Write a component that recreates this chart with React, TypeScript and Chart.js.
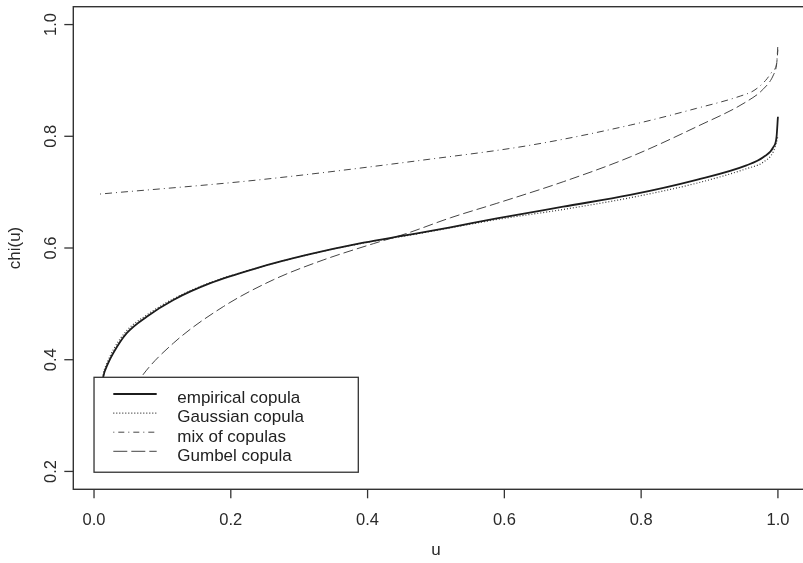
import React, { useEffect, useRef } from "react";
import { Chart, registerables } from "chart.js";

Chart.register(...registerables);

// ---- data ----
const uEmpirical = [0.010, 0.0136, 0.020, 0.0282, 0.0478, 0.077, 0.116, 0.170, 0.238, 0.311, 0.394, 0.457, 0.521, 0.589, 0.686, 0.784, 0.881, 0.954, 0.979, 0.9935, 0.998, 1.0];
const chiEmpirical = [0.340, 0.370, 0.392, 0.412, 0.4475, 0.477, 0.507, 0.537, 0.564, 0.5875, 0.6095, 0.623, 0.637, 0.653, 0.674, 0.695, 0.722, 0.748, 0.763, 0.781, 0.799, 0.835];

const uGaussian = [0.010, 0.0136, 0.020, 0.0282, 0.0478, 0.077, 0.116, 0.170, 0.238, 0.311, 0.394, 0.457, 0.521, 0.589, 0.686, 0.784, 0.881, 0.954, 0.979, 0.9935, 0.998, 1.0];
const chiGaussian = [0.345, 0.375, 0.397, 0.418, 0.452, 0.480, 0.509, 0.538, 0.564, 0.5875, 0.609, 0.622, 0.636, 0.651, 0.669, 0.690, 0.716, 0.742, 0.754, 0.773, 0.790, 0.800];

const uMix = [0.0088, 0.238, 0.491, 0.638, 0.784, 0.881, 0.945, 0.965, 0.982, 0.993, 0.998, 1.0];
const chiMix = [0.6966, 0.7216, 0.759, 0.784, 0.820, 0.850, 0.872, 0.882, 0.900, 0.918, 0.930, 0.964];

const uGumbel = [0.050, 0.0697, 0.116, 0.189, 0.262, 0.335, 0.409, 0.457, 0.521, 0.589, 0.686, 0.784, 0.881, 0.954, 0.979, 0.9935, 0.998, 1.0];
const chiGumbel = [0.330, 0.370, 0.4296, 0.495, 0.543, 0.5785, 0.608, 0.626, 0.654, 0.680, 0.7186, 0.763, 0.817, 0.862, 0.885, 0.910, 0.928, 0.955];

const xTicks = [0.0, 0.2, 0.4, 0.6, 0.8, 1.0];
const yTicks = [0.2, 0.4, 0.6, 0.8, 1.0];
const legendLabels = ["empirical copula", "Gaussian copula", "mix of copulas", "Gumbel copula"];

const FONT = '"Liberation Sans", Arial, Helvetica, sans-serif';

function toPoints(us: number[], vs: number[]) {
  return us.map((u, i) => ({ x: u, y: vs[i] }));
}

const styles = [
  { color: "#1c1c1c", width: 1.8, dash: [] as number[], legendDash: [] as number[] },
  { color: "#333333", width: 1.2, dash: [1, 2], legendDash: [1, 2] },
  { color: "#444444", width: 1, dash: [1, 4, 7, 4], legendDash: [1, 4, 6, 4] },
  { color: "#444444", width: 1, dash: [10, 4], legendDash: [14, 4] },
];

const rPlot = {
  id: "rPlot",
  afterDatasetsDraw(chart: any) {
    const ctx = chart.ctx as CanvasRenderingContext2D;
    const xs = chart.scales.x;
    const ys = chart.scales.y;
    const a = chart.chartArea;
    ctx.save();

    // legend (opaque)
    const lx0 = xs.getPixelForValue(0);
    const lx1 = 358.3;
    const ly1 = ys.getPixelForValue(0.2) + 0.8;
    const ly0 = 377.3;
    ctx.fillStyle = "#ffffff";
    ctx.fillRect(lx0, ly0, lx1 - lx0, ly1 - ly0);
    ctx.strokeStyle = "#333";
    ctx.lineWidth = 1.3;
    ctx.setLineDash([]);
    ctx.strokeRect(lx0, ly0, lx1 - lx0, ly1 - ly0);
    ctx.font = `17px ${FONT}`;
    ctx.textAlign = "left";
    ctx.textBaseline = "alphabetic";
    legendLabels.forEach((lab, i) => {
      const base = 403.3 + i * 19.1;
      const ly = base - 9.3;
      const st = styles[i];
      ctx.beginPath();
      ctx.strokeStyle = st.color;
      ctx.lineWidth = st.width;
      ctx.setLineDash(st.legendDash);
      ctx.moveTo(113.3, ly);
      ctx.lineTo(156.7, ly);
      ctx.stroke();
      ctx.setLineDash([]);
      ctx.fillStyle = "#222";
      ctx.fillText(lab, 177.3, base);
    });

    // box
    ctx.strokeStyle = "#333";
    ctx.lineWidth = 1.4;
    ctx.setLineDash([]);
    ctx.strokeRect(a.left, a.top, a.right - a.left, a.bottom - a.top);

    // x ticks
    ctx.fillStyle = "#2a2a2a";
    ctx.font = `16.5px ${FONT}`;
    ctx.textAlign = "center";
    ctx.textBaseline = "alphabetic";
    xTicks.forEach((v) => {
      const px = xs.getPixelForValue(v);
      ctx.beginPath();
      ctx.lineWidth = 1.3;
      ctx.moveTo(px, a.bottom);
      ctx.lineTo(px, a.bottom + 9);
      ctx.stroke();
      ctx.fillText(v.toFixed(1), px, 525);
    });

    // y ticks
    yTicks.forEach((v) => {
      const py = ys.getPixelForValue(v);
      ctx.beginPath();
      ctx.lineWidth = 1.3;
      ctx.moveTo(a.left, py);
      ctx.lineTo(a.left - 9, py);
      ctx.stroke();
      ctx.save();
      ctx.translate(56, py);
      ctx.rotate(-Math.PI / 2);
      ctx.fillText(v.toFixed(1), 0, 0);
      ctx.restore();
    });

    // axis titles
    ctx.font = `17px ${FONT}`;
    ctx.fillText("u", (xs.getPixelForValue(0) + xs.getPixelForValue(1)) / 2, 555);
    ctx.save();
    ctx.translate(20, (ys.getPixelForValue(0.2) + ys.getPixelForValue(1.0)) / 2);
    ctx.rotate(-Math.PI / 2);
    ctx.fillText("chi(u)", 0, 0);
    ctx.restore();

    ctx.restore();
  },
};

export default function App() {
  const ref = useRef<HTMLCanvasElement | null>(null);
  useEffect(() => {
    if (!ref.current) return;
    const series = [
      toPoints(uEmpirical, chiEmpirical),
      toPoints(uGaussian, chiGaussian),
      toPoints(uMix, chiMix),
      toPoints(uGumbel, chiGumbel),
    ];
    const chart = new Chart(ref.current, {
      type: "line",
      data: {
        datasets: series.map((d, i) => ({
          label: legendLabels[i],
          data: d,
          borderColor: styles[i].color,
          borderWidth: styles[i].width,
          borderDash: styles[i].dash,
          pointRadius: 0,
          fill: false,
          cubicInterpolationMode: "monotone" as const,
          borderJoinStyle: "round" as const,
        })),
      },
      options: {
        animation: false,
        responsive: false,
        devicePixelRatio: 1,
        layout: { padding: { left: 73.3, top: 6.7, right: 5, bottom: 73.7 } },
        scales: {
          x: { type: "linear", min: -0.0303, max: 1.0396, display: false },
          y: { type: "linear", min: 0.168, max: 1.032, display: false },
        },
        plugins: { legend: { display: false }, tooltip: { enabled: false } },
      },
      plugins: [rPlot],
    });
    return () => chart.destroy();
  }, []);
  return (
    <div style={{ position: "fixed", left: 0, top: 0, width: 803, height: 563, overflow: "hidden", background: "#fff" }}>
      <canvas ref={ref} width={810} height={563} style={{ display: "block" }} />
    </div>
  );
}
